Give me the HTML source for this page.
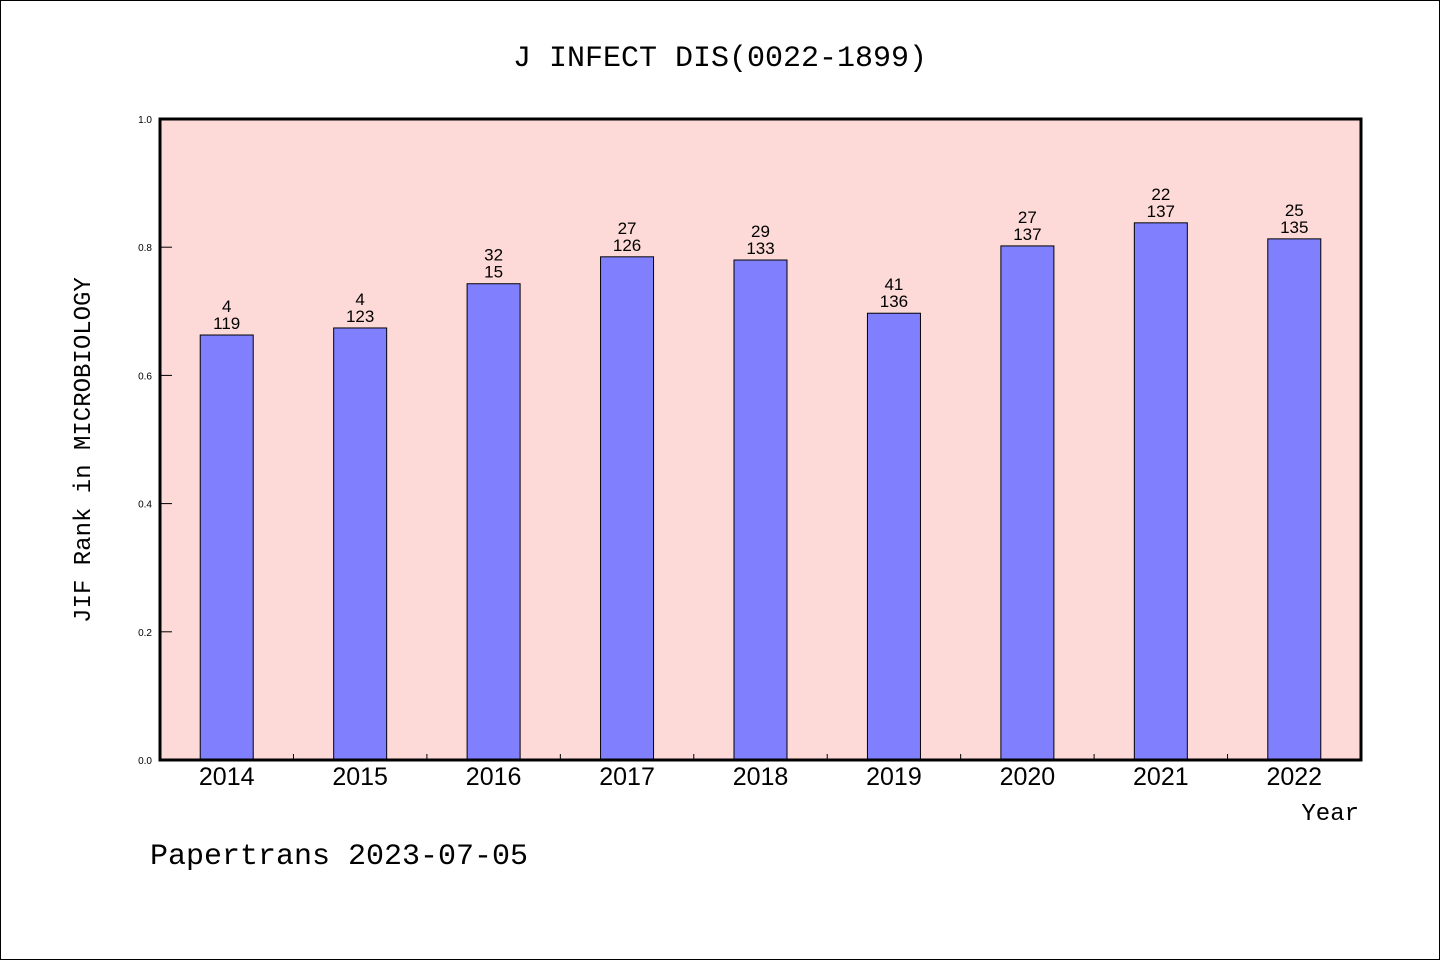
<!DOCTYPE html>
<html><head><meta charset="utf-8"><style>
body{margin:0;background:#fff;}
svg{display:block;font-family:"Liberation Sans","WenQuanYi Zen Hei",sans-serif;}
</style></head><body>
<svg id="chart" width="1440" height="960">
<rect x="0.5" y="0.5" width="1439" height="959" fill="#fff" stroke="#000"/>
<text x="720" y="66" text-anchor="middle" font-size="30" font-family="Liberation Mono,monospace">J INFECT DIS(0022-1899)</text>
<rect x="160" y="119" width="1201" height="641" fill="#fddad7"/>
<g id="bars"></g>
<g id="yticks"></g>
<rect x="160" y="119" width="1201" height="641" fill="none" stroke="#000" stroke-width="3"/>
<text transform="translate(90,450) rotate(-90)" text-anchor="middle" font-size="24" font-family="Liberation Mono,monospace">JIF Rank in MICROBIOLOGY</text>
<text x="1359" y="820" text-anchor="end" font-size="24" font-family="Liberation Mono,monospace">Year</text>
<text x="150" y="864" font-size="30" font-family="Liberation Mono,monospace">Papertrans 2023-07-05</text>
</svg>
<script>
const years=["2014","2015","2016","2017","2018","2019","2020","2021","2022"];
const values=[0.663,0.674,0.743,0.785,0.780,0.697,0.802,0.838,0.813];
const ranks=["4","4","32","27","29","41","27","22","25"];
const totals=["119","123","15","126","133","136","137","137","135"];
const yTicks=["0.0","0.2","0.4","0.6","0.8","1.0"];
const NS="http://www.w3.org/2000/svg";
const X0=160,W=1201,Y0=760,H=641;
const step=W/years.length;
const xc=i=>X0+step*(i+0.5);
const y=v=>Y0-v*H;
const bars=document.getElementById('bars');
function mk(tag,attrs,parent){const e=document.createElementNS(NS,tag);for(const k in attrs)e.setAttribute(k,attrs[k]);parent.appendChild(e);return e;}
years.forEach((yr,i)=>{
  const b=mk('rect',{x:xc(i)-26.5,y:y(values[i]),width:53,height:Y0-y(values[i]),fill:'#8080ff',stroke:'#000','stroke-width':1},bars);
  
  
  const t1=mk('text',{x:xc(i),y:y(values[i])-23,'text-anchor':'middle','font-size':17},bars);t1.textContent=ranks[i];
  
  
  const t2=mk('text',{x:xc(i),y:y(values[i])-6,'text-anchor':'middle','font-size':17},bars);t2.textContent=totals[i];
  
  
  const xl=mk('text',{x:xc(i),y:785,'text-anchor':'middle','font-size':25},bars);xl.textContent=yr;
  
  
  if(i>0){const tk=mk('line',{x1:X0+step*i,x2:X0+step*i,y1:Y0,y2:Y0-6,stroke:'#000'},bars);
  
  }
});
const yt=document.getElementById('yticks');
yTicks.forEach(l=>{
  const v=parseFloat(l);
  const ln=mk('line',{x1:X0,x2:X0+12,y1:y(v),y2:y(v),stroke:'#000'},yt);
  
  
  const t=mk('text',{x:152,y:y(v)+4,'text-anchor':'end','font-size':10},yt);t.textContent=l;
  
  
});
</script>
</body></html>
